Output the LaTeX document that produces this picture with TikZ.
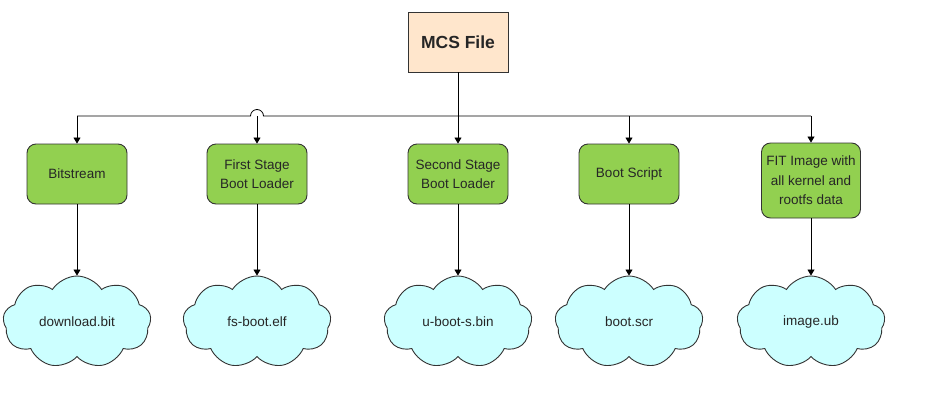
\documentclass[tikz,border=0pt]{standalone}
\usepackage{fontspec}
\setmainfont{Liberation Sans}
\usetikzlibrary{arrows.meta,shapes.symbols}
\definecolor{gfill}{HTML}{92D050}
\definecolor{cfill}{HTML}{CCFFFF}
\definecolor{mfill}{HTML}{FFE6CC}
\definecolor{bord}{HTML}{333333}
\begin{document}
\begin{tikzpicture}[x=1pt,y=1pt,
  every node/.style={font=\fontsize{13.5}{19.5}\selectfont, text=black!85, align=center, inner sep=0pt},
  mcsbox/.style={draw=bord, fill=mfill, line width=0.9pt, minimum width=100pt, minimum height=60pt, font=\fontsize{17.5}{20}\selectfont\bfseries},
  gbox/.style={draw=bord, fill=gfill, line width=0.9pt, rounded corners=9pt, minimum width=100pt, minimum height=60pt},
  cld/.style={cloud, draw=bord, fill=cfill, line width=0.9pt, cloud puffs=9, cloud puff arc=115, minimum width=148pt, minimum height=92pt, aspect=1.6},
  arr/.style={draw=black, line width=0.8pt, -{Triangle[width=7pt,length=6pt]}},
  ln/.style={draw=black, line width=0.8pt}]
\useasboundingbox (0,0) rectangle (933,-410);
\node[mcsbox] (mcs) at (458,-42) {MCS File};
\node[gbox] (bit) at (77,-174) {Bitstream};
\node[gbox] (fsb) at (257,-174) {First Stage\\Boot Loader};
\node[gbox] (ssb) at (458,-174) {Second Stage\\Boot Loader};
\node[gbox] (bs) at (629,-174) {Boot Script};
\node[gbox, minimum width=99pt, minimum height=75pt] (fit) at (811,-180.5) {FIT Image with\\all kernel and\\rootfs data};
\node[cld] (c1) at (77,-322) {download.bit};
\node[cld] (c2) at (257,-322) {fs-boot.elf};
\node[cld] (c3) at (458,-322) {u-boot-s.bin};
\node[cld] (c4) at (629,-322) {boot.scr};
\node[cld] (c5) at (811,-322) {image.ub};
\coordinate (hl) at (77,-116);
\coordinate (hr) at (811,-116);
\draw[arr] (mcs.south) -- (ssb.north);
\draw[ln] (hl) -- (250.5,-116) arc[start angle=180, end angle=0, radius=6.5] -- (hr);
\draw[arr] (hl) -- (bit.north);
\draw[arr] (fsb.north |- hl) -- (fsb.north);
\draw[arr] (bs.north |- hl) -- (bs.north);
\draw[arr] (hr) -- (fit.north);
\draw[arr] (bit.south) -- (c1.north);
\draw[arr] (fsb.south) -- (c2.north);
\draw[arr] (ssb.south) -- (c3.north);
\draw[arr] (bs.south) -- (c4.north);
\draw[arr] (fit.south) -- (c5.north);
\end{tikzpicture}
\end{document}
